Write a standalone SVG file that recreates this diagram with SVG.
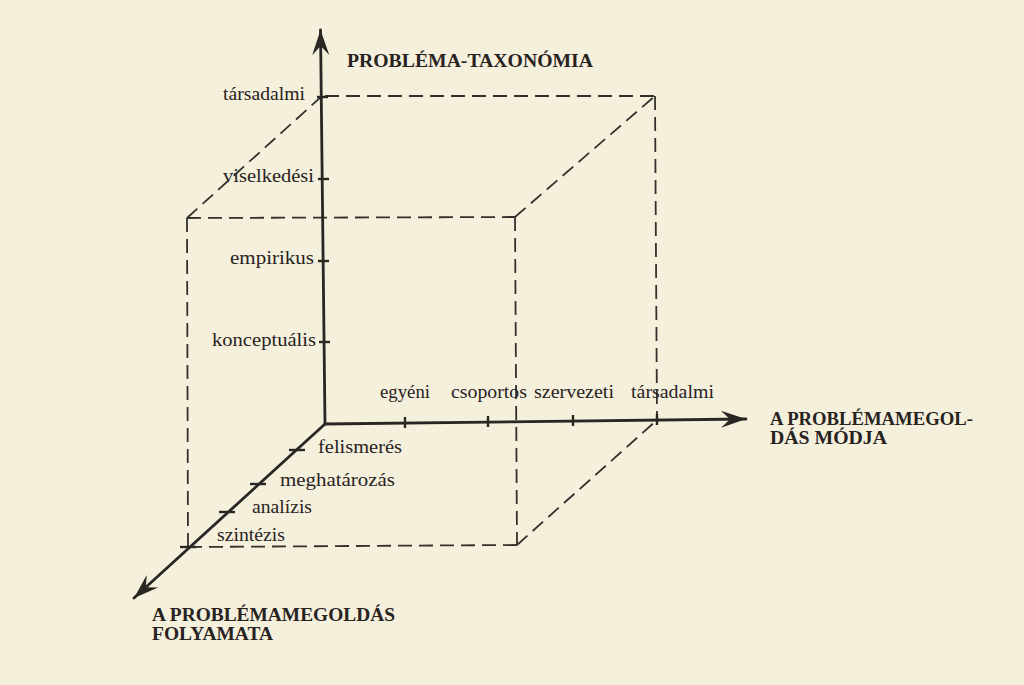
<svg xmlns="http://www.w3.org/2000/svg" width="1024" height="685" viewBox="0 0 1024 685">
<style>
.bg{fill:#f5f0dc}
.axis{stroke:#2a2624;stroke-width:2.8;fill:none;stroke-linecap:round}
.tick{stroke:#2a2624;stroke-width:2.4;fill:none}
.dash{stroke:#35302d;stroke-width:1.8;fill:none;stroke-dasharray:14 7}
.lbl{font-family:"Liberation Serif","Times New Roman",serif;font-size:18px;fill:#28231f}
.ttl{font-family:"Liberation Serif","Times New Roman",serif;font-size:18px;font-weight:bold;fill:#28231f}
</style>
<defs>
<marker id="ah" viewBox="-26 -10 28 20" markerWidth="28" markerHeight="20" refX="0" refY="0" orient="auto" markerUnits="userSpaceOnUse">
<path d="M0,0 L-25,-8.5 L-16,0 L-25,8.5 Z" fill="#2a2624"/>
</marker>
</defs>
<rect class="bg" x="0" y="0" width="1024" height="685"/>
<g id="connectors">
<g id="cube">
<line class="dash" x1="325" y1="96" x2="655" y2="96"/>
<line class="dash" x1="655" y1="96" x2="657" y2="420"/>
<line class="dash" x1="322" y1="96" x2="187" y2="218"/>
<line class="dash" x1="187" y1="218" x2="515" y2="217"/>
<line class="dash" x1="187" y1="218" x2="188" y2="548"/>
<line class="dash" x1="515" y1="217" x2="517" y2="545"/>
<line class="dash" x1="188" y1="547" x2="517" y2="545"/>
<line class="dash" x1="515" y1="217" x2="655" y2="96"/>
<line class="dash" x1="517" y1="545" x2="657" y2="420"/>
</g>
<line class="axis" x1="325" y1="424" x2="320.5" y2="30" marker-end="url(#ah)"/>
<line class="axis" x1="325" y1="424" x2="746" y2="419" marker-end="url(#ah)"/>
<line class="axis" x1="325" y1="424" x2="134" y2="598" marker-end="url(#ah)"/>
<g id="ticks">
<line class="tick" x1="317" y1="97" x2="328" y2="97"/>
<line class="tick" x1="318" y1="179" x2="329" y2="179"/>
<line class="tick" x1="318" y1="261" x2="329" y2="261"/>
<line class="tick" x1="319" y1="342" x2="330" y2="342"/>
<line class="tick" x1="405" y1="417" x2="405" y2="428"/>
<line class="tick" x1="488" y1="416" x2="488" y2="427"/>
<line class="tick" x1="573" y1="415" x2="573" y2="426"/>
<line class="tick" x1="657" y1="414" x2="657" y2="425"/>
<line class="tick" x1="289" y1="450" x2="305" y2="450"/>
<line class="tick" x1="250" y1="484" x2="266" y2="484"/>
<line class="tick" x1="219" y1="512" x2="235" y2="512"/>
<line class="tick" x1="180" y1="547" x2="196" y2="547"/>
</g>
</g>
<g id="axis-vertical">
<text class="ttl" x="347" y="67" textLength="246" lengthAdjust="spacingAndGlyphs">PROBLÉMA-TAXONÓMIA</text>
<text class="lbl" x="223" y="100" textLength="82" lengthAdjust="spacingAndGlyphs">társadalmi</text>
<text class="lbl" x="223" y="182" textLength="91" lengthAdjust="spacingAndGlyphs">viselkedési</text>
<text class="lbl" x="230" y="264" textLength="84" lengthAdjust="spacingAndGlyphs">empirikus</text>
<text class="lbl" x="212" y="346" textLength="104" lengthAdjust="spacingAndGlyphs">konceptuális</text>
</g>
<g id="axis-horizontal">
<text class="lbl" x="380" y="398" textLength="50" lengthAdjust="spacingAndGlyphs">egyéni</text>
<text class="lbl" x="451" y="398" textLength="76" lengthAdjust="spacingAndGlyphs">csoportos</text>
<text class="lbl" x="534" y="398" textLength="80" lengthAdjust="spacingAndGlyphs">szervezeti</text>
<text class="lbl" x="631" y="398" textLength="83" lengthAdjust="spacingAndGlyphs">társadalmi</text>
<text class="ttl" x="770" y="425" textLength="203" lengthAdjust="spacingAndGlyphs">A PROBLÉMAMEGOL-</text>
<text class="ttl" x="770" y="444" textLength="117" lengthAdjust="spacingAndGlyphs">DÁS MÓDJA</text>
</g>
<g id="axis-diagonal">
<text class="lbl" x="318" y="453" textLength="84" lengthAdjust="spacingAndGlyphs">felismerés</text>
<text class="lbl" x="280" y="486" textLength="115" lengthAdjust="spacingAndGlyphs">meghatározás</text>
<text class="lbl" x="252" y="513" textLength="60" lengthAdjust="spacingAndGlyphs">analízis</text>
<text class="lbl" x="217" y="541" textLength="68" lengthAdjust="spacingAndGlyphs">szintézis</text>
<text class="ttl" x="152" y="621" textLength="243" lengthAdjust="spacingAndGlyphs">A PROBLÉMAMEGOLDÁS</text>
<text class="ttl" x="152" y="640" textLength="121" lengthAdjust="spacingAndGlyphs">FOLYAMATA</text>
</g>
</svg>
